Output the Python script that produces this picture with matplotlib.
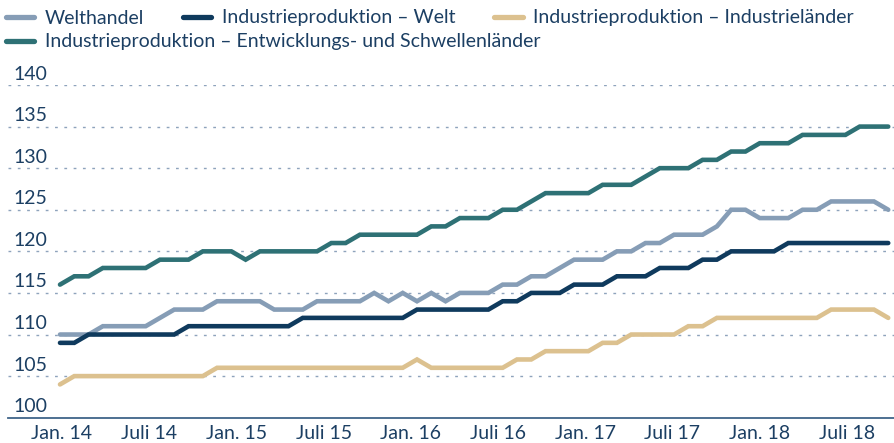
import numpy as np
import matplotlib
matplotlib.use("Agg")
import matplotlib.pyplot as plt
import matplotlib.transforms as mtransforms
from matplotlib.lines import Line2D

plt.rcParams['font.family'] = ['Lato', 'DejaVu Sans']

# ---------------- data ----------------
months = list(range(59))  # Jan 2014 .. Nov 2018
tick_labels = ["Jan. 14", "Juli 14", "Jan. 15", "Juli 15", "Jan. 16",
               "Juli 16", "Jan. 17", "Juli 17", "Jan. 18", "Juli 18"]
y_ticks = [100, 105, 110, 115, 120, 125, 130, 135, 140]

welthandel = ([110]*3 + [111]*4 + [112] + [113]*3 + [114]*4 + [113]*3 +
              [114]*4 + [115, 114, 115, 114, 115, 114] + [115]*3 +
              [116]*2 + [117]*2 + [118] + [119]*3 + [120]*2 + [121]*2 +
              [122]*3 + [123] + [125]*2 + [124]*3 + [125]*2 + [126]*4 + [125])
ip_welt = ([109]*2 + [110]*7 + [111]*8 + [112]*8 + [113]*6 + [114]*2 +
           [115]*3 + [116]*3 + [117]*3 + [118]*3 + [119]*2 + [120]*4 + [121]*8)
ip_industrie = ([104] + [105]*10 + [106]*14 + [107] + [106]*6 + [107]*2 +
                [108]*4 + [109]*2 + [110]*4 + [111]*2 + [112]*8 + [113]*4 + [112])
ip_schwellen = ([116] + [117]*2 + [118]*4 + [119]*3 + [120]*3 + [119] +
                [120]*5 + [121]*2 + [122]*5 + [123]*2 + [124]*3 + [125]*2 +
                [126] + [127]*4 + [128]*3 + [129] + [130]*3 + [131]*2 +
                [132]*2 + [133]*3 + [134]*4 + [135]*3)

series = [
    ("Welthandel", welthandel, "#869db6"),
    ("Industrieproduktion – Welt", ip_welt, "#0f3a5d"),
    ("Industrieproduktion – Industrieländer", ip_industrie, "#dcc18f"),
    ("Industrieproduktion – Entwicklungs- und Schwellenländer", ip_schwellen, "#2e7175"),
]

# ---------------- layout ----------------
W, H = 895, 443
FS = 14
fig = plt.figure(figsize=(W/100, H/100), dpi=100)
ax_left_px, ax_right_px = 8, 895
ax_top_px, ax_bot_px = 85, 417.7
ax = fig.add_axes([ax_left_px/W, 1 - ax_bot_px/H,
                   (ax_right_px - ax_left_px)/W, (ax_bot_px - ax_top_px)/H])

px_per_month = 14.28
first_px = 60
ax.set_xlim(-(first_px - ax_left_px)/px_per_month,
            len(months) - 1 + (ax_right_px - (first_px + 58*px_per_month))/px_per_month)
ax.set_ylim(100, 140)

text_color = "#1c3f63"
grid_color = "#8ea3bc"

for label, vals, col in series:
    ax.plot(months, vals, color=col, lw=3.3, solid_joinstyle='miter',
            solid_capstyle='round', zorder=3)

# dotted grid lines
for yv in y_ticks[1:]:
    ax.axhline(yv, color=grid_color, lw=1.0, linestyle=(0, (2.0, 4.7)), zorder=1)

for s in ["top", "right", "left"]:
    ax.spines[s].set_visible(False)
ax.spines["bottom"].set_color("#3f6489")
ax.spines["bottom"].set_linewidth(1.3)

ax.set_yticks([])
lab_tr = mtransforms.blended_transform_factory(ax.transAxes, ax.transData)
for yv in y_ticks:
    ax.text(5.5/(ax_right_px - ax_left_px), yv + 0.3, str(yv), transform=lab_tr,
            ha='left', va='bottom', fontsize=FS, color=text_color)

tick_pos = [0.14 + 6.106*i for i in range(len(tick_labels))]
ax.set_xticks(tick_pos)
ax.set_xticklabels(tick_labels, fontsize=FS, color=text_color)
ax.tick_params(axis='x', length=0, pad=5)

# legend: row 1 with three items, row 2 with one item
handles = [Line2D([0], [0], color=c, lw=3.8, solid_capstyle='round') for _, _, c in series]
labels = [l for l, _, _ in series]
common = dict(frameon=False, fontsize=FS, handlelength=1.45, handletextpad=0.55,
              borderpad=0, borderaxespad=0, loc='center left')
leg1 = fig.legend(handles[:3], labels[:3], ncol=3, columnspacing=2.0,
                  bbox_to_anchor=(6/W, 1 - 18/H), **common)
leg2 = fig.legend(handles[3:], labels[3:], ncol=1,
                  bbox_to_anchor=(6/W, 1 - 42/H), **common)
for lg in (leg1, leg2):
    for t in lg.get_texts():
        t.set_color(text_color)

fig.savefig("out.png", dpi=100)
